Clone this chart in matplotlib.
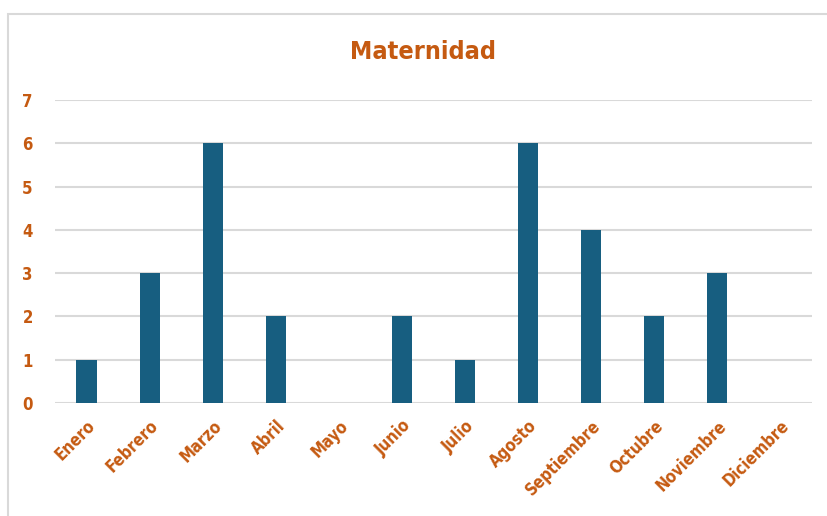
import matplotlib
matplotlib.use("Agg")
import matplotlib.pyplot as plt
from matplotlib.patches import Rectangle

meses = ["Enero", "Febrero", "Marzo", "Abril", "Mayo", "Junio", "Julio",
         "Agosto", "Septiembre", "Octubre", "Noviembre", "Diciembre"]
casos = [1, 3, 6, 2, 0, 2, 1, 6, 4, 2, 3, 0]
y_ticks = [0, 1, 2, 3, 4, 5, 6, 7]

naranja = "#C55A11"
azul = "#175E80"
gris = "#D9D9D9"

plt.rcParams['font.family'] = ['DejaVu Sans']
plt.rcParams['font.stretch'] = 'condensed'

fig = plt.figure(figsize=(8.27, 5.16), dpi=100)
# marco del grafico
fig.patches.append(Rectangle((8 / 827, -0.1), 1.1, 1.1 - 14 / 516,
                             transform=fig.transFigure, fill=False,
                             edgecolor=gris, linewidth=1.5))

ax = fig.add_axes([55 / 827, 1 - 403 / 516, 757 / 827, 303 / 516])
x = range(len(meses))
ax.bar(x, casos, width=0.32, color=azul, zorder=3)

ax.set_ylim(0, 7)
ax.set_xlim(-0.5, len(meses) - 0.5)
ax.set_yticks(y_ticks)
ax.set_yticklabels([str(t) for t in y_ticks], color=naranja, fontweight='bold',
                   fontsize=12, fontstretch='condensed')
ax.set_xticks(list(x))
ax.set_xticklabels(meses, rotation=45, ha='right', rotation_mode='anchor',
                   color=naranja, fontweight='bold', fontsize=12,
                   fontstretch='condensed')
ax.tick_params(axis='both', length=0)
ax.tick_params(axis='y', pad=16)
ax.tick_params(axis='x', pad=10)
ax.grid(axis='y', color=gris, linewidth=1.5, zorder=0)
for s in ax.spines.values():
    s.set_visible(False)

fig.text(423 / 827, 1 - 52 / 516, "Maternidad", ha='center', va='center',
         color=naranja, fontsize=18, fontweight='bold', fontstretch='condensed')

fig.savefig("out.png", dpi=100)
